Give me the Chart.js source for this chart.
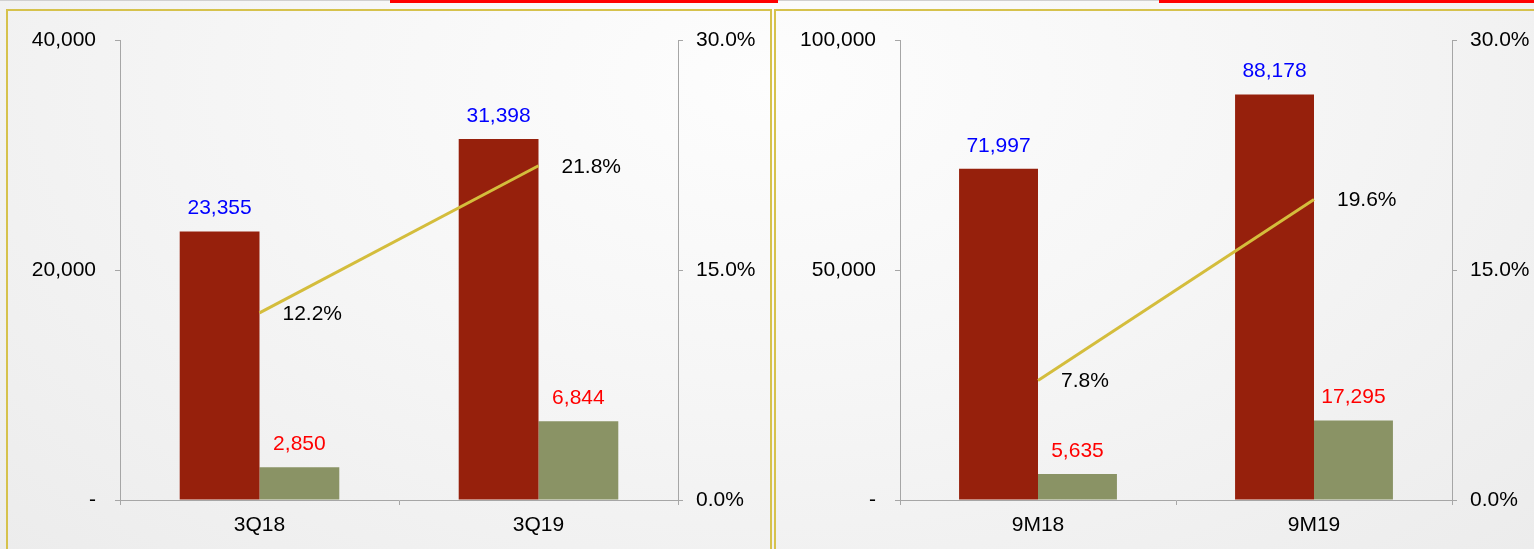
<!DOCTYPE html>
<html>
<head>
<meta charset="utf-8">
<script src="https://cdn.jsdelivr.net/npm/chart.js@4.4.1/dist/chart.umd.min.js"></script>
<style>
    html, body {
        margin: 0;
        padding: 0;
        width: 1534px;
        height: 549px;
        overflow: hidden;
        background: radial-gradient(ellipse at 50% 15%, #fdfdfd 0%, #f6f6f6 45%, #ececec 100%);
        position: relative;
    }
    .topline { position: absolute; top: 0; left: 0; width: 1534px; height: 1px; background: #d0d0d0; }
    .redbar { position: absolute; top: 0; height: 3px; background: #ff0000; }
    .panel { position: absolute; top: 9px; height: 560px; border: 2px solid #d6c24c; box-sizing: border-box; }
    canvas { position: absolute; top: 0; }
</style>
</head>
<body>
<div class="topline"></div>
<div class="redbar" style="left: 390px; width: 388px;"></div>
<div class="redbar" style="left: 1159px; width: 375px;"></div>
<div class="panel" style="left: 6px; width: 766px;"></div>
<div class="panel" style="left: 774px; width: 780px;"></div>
<canvas id="quarterChart" width="771" height="549" style="left: 0px;"></canvas>
<canvas id="ninemonthChart" width="759" height="549" style="left: 775px;"></canvas>
<script>
// quarter
const periodsQ = ['3Q18', '3Q19'];
const revenueQ = [23355, 31398];
const profitQ = [2850, 6844];
const marginQ = [12.2, 21.8];

// nine months
const periodsM = ['9M18', '9M19'];
const revenueM = [71997, 88178];
const profitM = [5635, 17295];
const marginM = [7.8, 19.6];

const barRed = '#96200c';
const barGreen = '#8a9365';
const lineGold = '#d4bd3c';
const axisGray = '#a6a6a6';

Chart.defaults.font.family = "'Liberation Sans', Arial, sans-serif";
Chart.defaults.font.size = 21;
Chart.defaults.color = '#000';

// draws value labels above bars and beside line points
const valueLabels = {
    id: 'valueLabels',
    afterDatasetsDraw(chart) {
        const ctx = chart.ctx;
        ctx.save();
        ctx.font = "21px 'Liberation Sans', Arial, sans-serif";
        ctx.textBaseline = 'middle';
        chart.data.datasets.forEach((ds, i) => {
            const meta = chart.getDatasetMeta(i);
            meta.data.forEach((el, j) => {
                const v = ds.data[j];
                if (ds.type === 'line') {
                    ctx.fillStyle = '#000';
                    ctx.textAlign = 'left';
                    ctx.fillText(v.toFixed(1) + '%', el.x + 23, el.y + 1);
                } else {
                    ctx.fillStyle = ds.labelColor;
                    ctx.textAlign = 'center';
                    ctx.fillText(v.toLocaleString('en-US'), el.x, el.y - 23);
                }
            });
        });
        ctx.restore();
    }
};

function makeChart(id, labels, revenue, profit, margin, maxLeft, leftWidth, rightWidth) {
    const ctx = document.getElementById(id).getContext('2d');
    return new Chart(ctx, {
        data: {
            labels: labels,
            datasets: [
                {
                    type: 'line',
                    data: margin,
                    yAxisID: 'y1',
                    borderColor: lineGold,
                    borderWidth: 3,
                    pointRadius: 0,
                    order: 0
                },
                {
                    type: 'bar',
                    data: revenue,
                    yAxisID: 'y',
                    backgroundColor: barRed,
                    labelColor: '#0000ff',
                    categoryPercentage: 0.572,
                    barPercentage: 1,
                    order: 1
                },
                {
                    type: 'bar',
                    data: profit,
                    yAxisID: 'y',
                    backgroundColor: barGreen,
                    labelColor: '#ff0000',
                    categoryPercentage: 0.572,
                    barPercentage: 1,
                    order: 1
                }
            ]
        },
        options: {
            responsive: false,
            animation: false,
            devicePixelRatio: 1,
            layout: { padding: { top: 40, left: 0, right: 0, bottom: 0 } },
            plugins: {
                legend: { display: false },
                tooltip: { enabled: false }
            },
            scales: {
                x: {
                    grid: { drawOnChartArea: false, color: axisGray, tickLength: 5, offset: true },
                    border: { color: axisGray },
                    ticks: { padding: 8, color: '#000' },
                    afterFit: scale => { scale.height = 49; }
                },
                y: {
                    position: 'left',
                    min: 0,
                    max: maxLeft,
                    ticks: {
                        stepSize: maxLeft / 2,
                        padding: 19,
                        color: '#000',
                        callback: v => v === 0 ? '-' : v.toLocaleString('en-US')
                    },
                    grid: { drawOnChartArea: false, color: axisGray, tickLength: 5 },
                    border: { color: axisGray },
                    afterFit: scale => { scale.width = leftWidth; }
                },
                y1: {
                    position: 'right',
                    min: 0,
                    max: 30,
                    ticks: {
                        stepSize: 15,
                        padding: 13,
                        color: '#000',
                        callback: v => v.toFixed(1) + '%'
                    },
                    grid: { drawOnChartArea: false, color: axisGray, tickLength: 5 },
                    border: { color: axisGray },
                    afterFit: scale => { scale.width = rightWidth; }
                }
            }
        },
        plugins: [valueLabels]
    });
}

makeChart('quarterChart', periodsQ, revenueQ, profitQ, marginQ, 40000, 120, 93);
makeChart('ninemonthChart', periodsM, revenueM, profitM, marginM, 100000, 125, 82);
</script>
</body>
</html>
